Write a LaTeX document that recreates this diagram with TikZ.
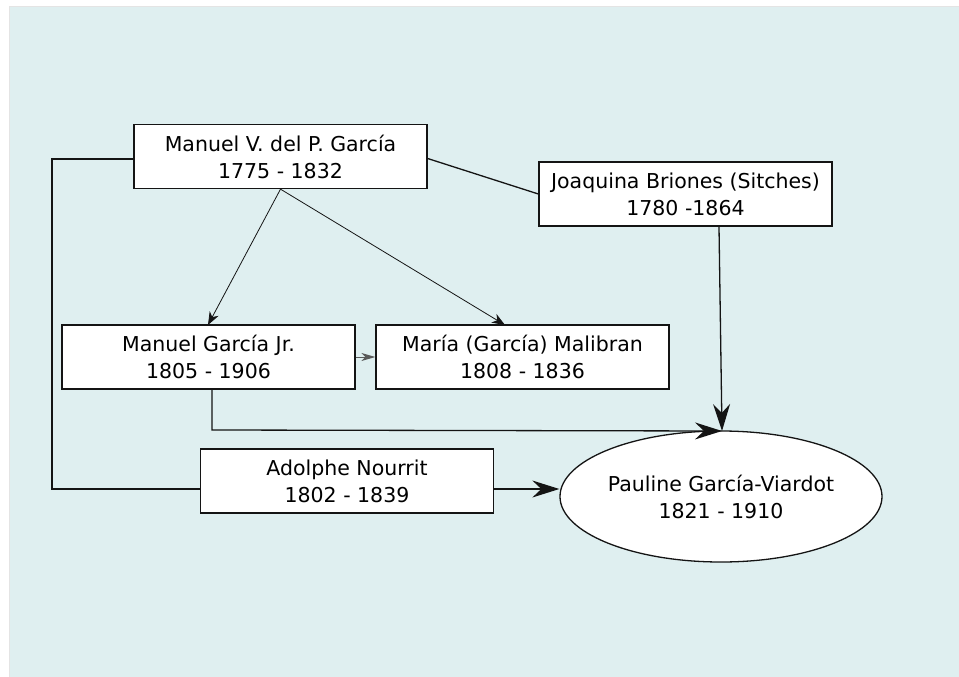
\documentclass[tikz,border=0pt]{standalone}
\usepackage{fontspec}
\setmainfont{DejaVu Sans}
\usetikzlibrary{arrows.meta,shapes.geometric,calc}
\definecolor{bgteal}{RGB}{223,239,240}
\definecolor{edgegray}{RGB}{228,228,228}
\definecolor{ink}{RGB}{20,20,20}
\begin{document}
\begin{tikzpicture}[x=1pt,y=-1pt,
  person/.style={draw=ink,line width=1.3pt,fill=white,minimum width=293pt,minimum height=64pt,
    align=center,font=\fontsize{20.5}{27}\selectfont,inner sep=0pt},
  pauline/.style={draw=ink,line width=1.3pt,fill=white,ellipse,minimum width=322pt,minimum height=131pt,
    align=center,font=\fontsize{20.5}{27}\selectfont,inner sep=0pt},
  link/.style={draw=ink,line width=1.3pt},
  thinarrow/.style={draw=ink,line width=0.8pt,-{Stealth[length=13pt,width=10pt,inset=4pt]}},
  bigarrow/.style={draw=ink,line width=1.3pt,-{Stealth[length=27pt,width=17pt,inset=9pt]}},
  smallarrow/.style={draw=ink!70,line width=1pt,-{Stealth[length=14pt,width=8pt,inset=4pt]}}]
\useasboundingbox (0,0) rectangle (959,677);
\fill[edgegray] (9,6) rectangle (959,677);
\fill[bgteal] (10,7) rectangle (959,677);

\node[person] (A) at (280.5,156.5) {Manuel V. del P. García\\1775 - 1832};
\node[person] (B) at (685.5,194) {Joaquina Briones (Sitches)\\1780 -1864};
\node[person] (C) at (208.5,357) {Manuel García Jr.\\1805 - 1906};
\node[person] (D) at (522.5,357) {María (García) Malibran\\1808 - 1836};
\node[person] (E) at (347,481) {Adolphe Nourrit\\1802 - 1839};
\node[pauline] (F) at (721,496.5) {Pauline García-Viardot\\1821 - 1910};

\coordinate (jtop) at (52,159);
\coordinate (jbot) at (52,489);
\coordinate (jc) at (212,430);
\coordinate (tipC) at (208,325);
\coordinate (tipD) at (505,325);
\coordinate (tipF) at (722,431);

\draw[link] ([yshift=-2.5pt]A.west) -- (jtop) -- (jbot) -- (E.west |- jbot);
\draw[link] ([yshift=-2pt]A.east) -- (B.west);
\draw[thinarrow] (A.south) -- (tipC);
\draw[thinarrow] (A.south) -- (tipD);
\draw[smallarrow] (C.east) -- (D.west);
\draw[bigarrow] (C.south -| jc) -- (jc) -- (tipF);
\draw[bigarrow] (B.south -| 719,0) -- (tipF);
\draw[bigarrow] (E.east |- jbot) -- (F.west |- jbot);
\end{tikzpicture}
\end{document}
